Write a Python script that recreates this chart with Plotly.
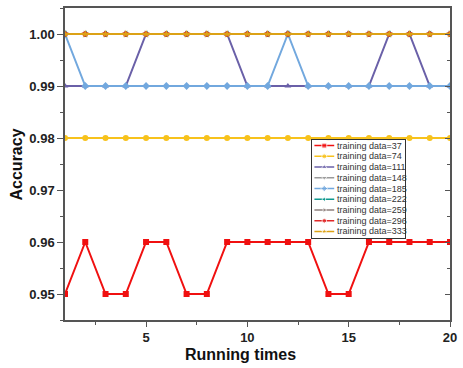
import plotly.graph_objects as go

runs = list(range(1, 21))
sizes = [37, 74, 111, 148, 185, 222, 259, 296, 333]

acc_37 = [0.95, 0.96, 0.95, 0.95, 0.96, 0.96, 0.95, 0.95, 0.96, 0.96,
          0.96, 0.96, 0.96, 0.95, 0.95, 0.96, 0.96, 0.96, 0.96, 0.96]
acc_74 = [0.98] * 20
acc_111 = [0.99, 0.99, 0.99, 0.99, 1.00, 1.00, 1.00, 1.00, 1.00, 0.99,
           0.99, 0.99, 0.99, 0.99, 0.99, 0.99, 1.00, 1.00, 0.99, 0.99]
acc_148 = [1.00] * 20
acc_185 = [1.00, 0.99, 0.99, 0.99, 0.99, 0.99, 0.99, 0.99, 0.99, 0.99,
           0.99, 1.00, 0.99, 0.99, 0.99, 0.99, 0.99, 0.99, 0.99, 0.99]
acc_222 = [1.00] * 20
acc_259 = [1.00] * 20
acc_296 = [1.00] * 20
acc_333 = [1.00] * 20

series = [acc_37, acc_74, acc_111, acc_148, acc_185, acc_222, acc_259, acc_296, acc_333]
colors = ["#F01010", "#F7C21C", "#6A60A8", "#9A9A9A", "#72A8DE",
          "#10998F", "#8E7F7C", "#E02828", "#DCA216"]
symbols = ["square", "circle", "triangle-up", "triangle-down", "diamond",
           "triangle-left", "triangle-right", "hexagon", "star"]

y_ticks = [0.95, 0.96, 0.97, 0.98, 0.99, 1.00]
x_ticks = [5, 10, 15, 20]

FONT = "Arial, Liberation Sans, sans-serif"

fig = go.Figure()
for n, vals, c, s in zip(sizes, series, colors, symbols):
    fig.add_trace(go.Scatter(
        x=runs, y=vals, mode="lines+markers", name=f"training data={n}",
        line=dict(color=c, width=2), marker=dict(color=c, symbol=s, size=6),
        showlegend=False, xaxis="x", yaxis="y"))

# invisible trace to carry the right-hand mirrored axis
fig.add_trace(go.Scatter(x=runs, y=acc_37, mode="lines", opacity=0,
                         hoverinfo="skip", showlegend=False,
                         xaxis="x", yaxis="y3"))

# custom compact legend (samples on an inset axis)
leg_y = [5.5 + i * 10.8 for i in range(len(sizes))]
for n, c, s, ly in zip(sizes, colors, symbols, leg_y):
    fig.add_trace(go.Scatter(
        x=[2, 12, 22], y=[ly, ly, ly], mode="lines+markers",
        line=dict(color=c, width=1.5),
        marker=dict(color=c, symbol=s, size=[0, 5, 0]),
        hoverinfo="skip", showlegend=False, xaxis="x2", yaxis="y2"))
    fig.add_annotation(x=23, y=ly, xref="x2", yref="y2", xanchor="left",
                       yanchor="middle", showarrow=False,
                       text=f"training data={n}",
                       font=dict(family=FONT, size=9, color="#333333"))

axis_line = "#555555"
fig.update_layout(
    width=463, height=368,
    margin=dict(l=65, r=9, t=6, b=48),
    paper_bgcolor="white", plot_bgcolor="white",
    showlegend=False,
    font=dict(family=FONT, color="#222222"),
    xaxis=dict(range=[1, 20], tickvals=x_ticks, ticktext=[str(v) for v in x_ticks],
               ticks="outside", ticklen=5, tickwidth=1.2, tickcolor=axis_line,
               minor=dict(dtick=2.5, tick0=0, ticks="outside", ticklen=3,
                          tickcolor=axis_line),
               showline=True, linecolor=axis_line, linewidth=1.5, mirror=True,
               showgrid=False, zeroline=False,
               tickfont=dict(family=FONT, size=13, color="#222222", weight="bold")),
    yaxis=dict(range=[0.945, 1.005], tickvals=y_ticks,
               ticktext=[f"{v:.2f}" for v in y_ticks],
               ticks="outside", ticklen=6, tickwidth=1.2, tickcolor=axis_line,
               minor=dict(dtick=0.005, tick0=0.945, ticks="outside", ticklen=3,
                          tickcolor=axis_line),
               showline=True, linecolor=axis_line, linewidth=1.5, mirror=True,
               showgrid=False, zeroline=False,
               tickfont=dict(family=FONT, size=13, color="#222222", weight="bold")),
    yaxis3=dict(range=[0.945, 1.005], overlaying="y", side="right", anchor="x",
                tickvals=y_ticks, showticklabels=False,
                ticks="inside", ticklen=5, tickcolor=axis_line,
                minor=dict(dtick=0.005, tick0=0.945, ticks="inside", ticklen=3,
                           tickcolor=axis_line),
                showline=False, showgrid=False, zeroline=False),
    xaxis2=dict(domain=[0.6427, 0.8843], anchor="y2", range=[0, 94],
                showline=True, mirror=True, linecolor="#333333", linewidth=1,
                showticklabels=False, ticks="", showgrid=False, zeroline=False,
                fixedrange=True),
    yaxis2=dict(domain=[0.2643, 0.5764], anchor="x2", range=[98, 0],
                showline=True, mirror=True, linecolor="#333333", linewidth=1,
                showticklabels=False, ticks="", showgrid=False, zeroline=False,
                fixedrange=True),
)

fig.add_annotation(x=0.455, y=-0.111, xref="paper", yref="paper",
                   text="<b>Running times</b>", showarrow=False,
                   xanchor="center", yanchor="middle",
                   font=dict(family=FONT, size=16, color="#111111"))
fig.add_annotation(x=-0.126, y=0.5, xref="paper", yref="paper",
                   text="<b>Accuracy</b>", showarrow=False, textangle=-90,
                   xanchor="center", yanchor="middle",
                   font=dict(family=FONT, size=16, color="#111111"))

fig.write_html("out.html", config={"displayModeBar": False},
               post_script="document.body.style.margin='0';document.body.style.overflow='hidden';")
